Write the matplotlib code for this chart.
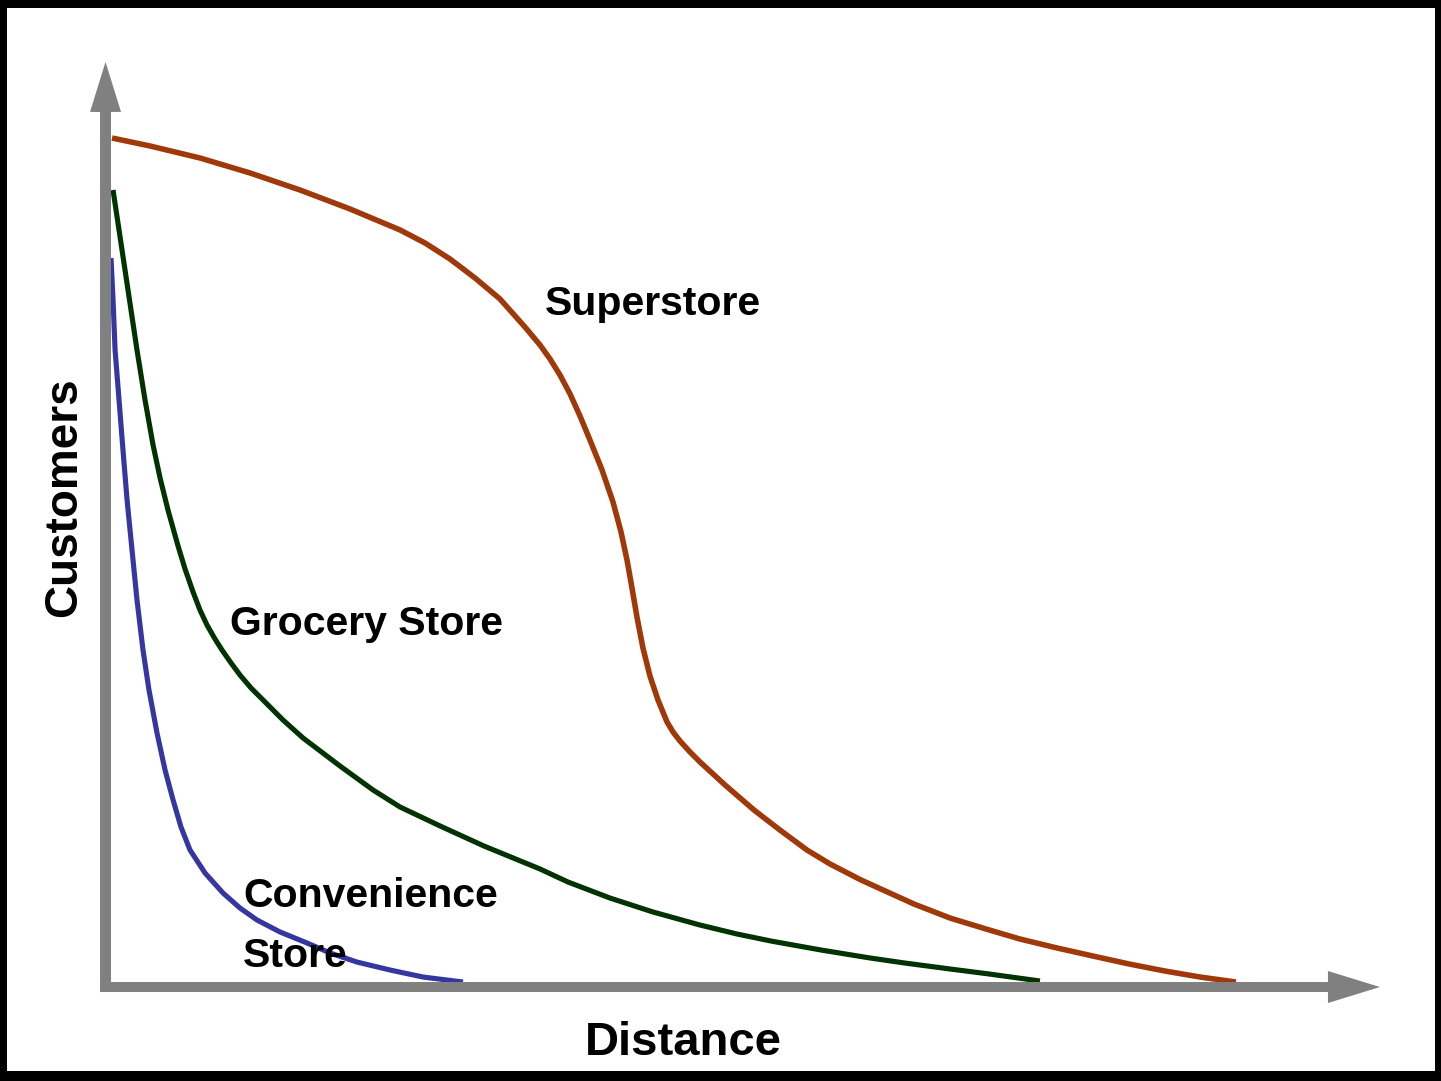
import numpy as np
import matplotlib
matplotlib.use("Agg")
import matplotlib.pyplot as plt
from matplotlib.patches import Rectangle

# curves (distance, customers) in arbitrary units 0..100
super_x = [0.51, 3.49, 7.41, 11.34, 15.26, 19.18, 23.11, 25.07, 27.03, 28.99,
           30.95, 32.91, 34.09, 34.88, 35.66, 36.45, 37.23, 38.01, 38.96, 39.82,
           40.45, 40.92, 41.31, 41.70, 42.17, 42.72, 43.35, 44.06, 44.53, 45.08,
           45.86, 46.65, 48.61, 50.88, 52.92, 55.04, 56.85, 59.28, 63.44, 66.26,
           69.09, 71.75, 74.66, 77.48, 80.31, 83.13, 85.88, 88.70]
super_y = [91.78, 90.92, 89.62, 88.00, 86.16, 84.11, 81.84, 80.43, 78.70, 76.65,
           74.38, 71.35, 69.41, 67.89, 66.16, 64.11, 61.73, 59.14, 55.89, 52.43,
           49.19, 46.16, 43.14, 40.0, 36.65, 33.62, 31.03, 28.65, 27.57, 26.59,
           25.41, 24.32, 21.84, 19.14, 16.97, 14.81, 13.30, 11.57, 8.97, 7.46,
           6.27, 5.19, 4.22, 3.35, 2.49, 1.73, 1.08, 0.54]

grocery_x = [0.59, 1.53, 2.47, 3.10, 3.73, 4.28, 4.90, 5.69, 6.24, 6.87, 7.41,
             7.96, 8.59, 9.14, 9.85, 10.55, 11.42, 12.36, 13.93, 15.50, 18.40,
             20.99, 23.11, 26.25, 29.70, 34.09, 36.29, 39.58, 42.96, 46.65, 49.55,
             52.22, 56.14, 59.98, 62.73, 66.26, 69.32, 73.32]
grocery_y = [86.16, 77.51, 68.86, 63.46, 58.59, 55.03, 51.57, 47.68, 45.19, 42.70, 40.76,
             39.14, 37.62, 36.43, 35.03, 33.73, 32.32, 31.03, 28.86, 26.92, 23.89,
             21.30, 19.46, 17.41, 15.24, 12.76, 11.35, 9.62, 8.11, 6.70, 5.73,
             4.97, 4.0, 3.14, 2.59, 1.95, 1.41, 0.65]

conv_x = [0.43, 0.59, 0.75, 1.06, 1.37, 1.69, 2.08, 2.47, 2.94, 3.41, 4.04, 4.67, 5.30,
          5.92, 6.63, 7.81, 9.22, 10.55, 11.89, 13.69, 15.81, 17.61, 19.73, 22.32,
          24.91, 28.05]
conv_y = [78.81, 74.27, 68.86, 63.46, 58.05, 52.65, 47.24, 41.84, 36.43, 32.11, 27.46,
          23.46, 20.22, 17.30, 14.81, 12.32, 10.16, 8.54, 7.24, 5.95, 4.76, 3.68, 2.70,
          1.84, 1.08, 0.54]

GRAY = '#808080'
plt.rcParams['font.family'] = ['Liberation Sans', 'DejaVu Sans']

fig = plt.figure(figsize=(14.41, 10.81), dpi=100, facecolor='black')

ax = fig.add_axes([0, 0, 1, 1])
ax.set_facecolor('none')
ax.set_xlim(-8.28, 104.79)
ax.set_ylim(-10.16, 106.70)
ax.axis('off')

# white page inside the black frame
ax.add_patch(Rectangle((7 / 1441, 10 / 1081), 1428 / 1441, 1063 / 1081,
                       transform=fig.transFigure, facecolor='white',
                       edgecolor='none', zorder=0, clip_on=False))

ax.plot(super_x, super_y, color='#A0390A', lw=4, solid_joinstyle='round',
        solid_capstyle='butt', zorder=2)
ax.plot(grocery_x, grocery_y, color='#003300', lw=3.7, solid_joinstyle='round',
        solid_capstyle='butt', zorder=2)
ax.plot(conv_x, conv_y, color='#3636A0', lw=3.7, solid_joinstyle='round',
        solid_capstyle='butt', zorder=2)

# axes as gray arrows
ax.arrow(0, -0.54, 0, 100.54, width=0.86, head_width=2.43, head_length=5.4,
         length_includes_head=True, color=GRAY, lw=0, zorder=3)
ax.arrow(-0.43, 0, 100.43, 0, width=1.08, head_width=3.46, head_length=4.08,
         length_includes_head=True, color=GRAY, lw=0, zorder=3)

lab = dict(fontsize=29.5, fontweight='bold', color='black', va='baseline', ha='left', zorder=4)
ax.text(34.48, 72.65, 'Superstore', **lab)
ax.text(9.77, 38.05, 'Grocery Store', **lab)
ax.text(10.79, 8.65, 'Convenience', **lab)
ax.text(10.79, 2.16, 'Store', **lab)

ax.text(45.31, -7.35, 'Distance', fontsize=34, fontweight='bold', ha='center',
        va='baseline', zorder=4)
ax.text(-2.3, 52.9, 'Customers', fontsize=33, fontweight='bold', ha='center',
        va='baseline', rotation=90, rotation_mode='anchor', zorder=4)

fig.savefig('out.png', dpi=100, facecolor='black')
